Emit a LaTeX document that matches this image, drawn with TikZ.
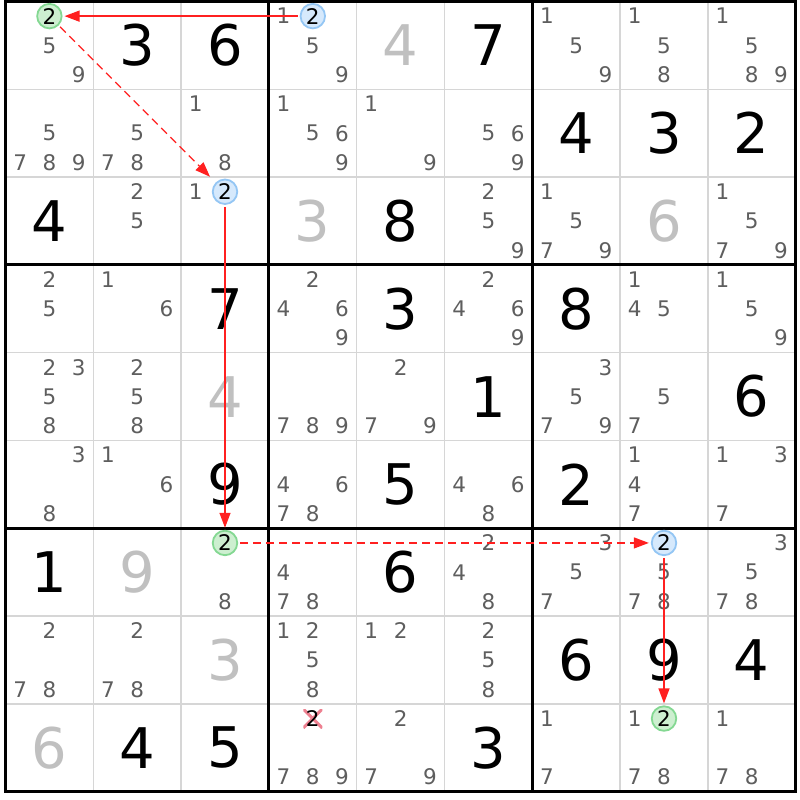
\documentclass[tikz,border=0pt]{standalone}
\usepackage{fontspec}
\setmainfont{DejaVu Sans}
\usetikzlibrary{arrows.meta}

\definecolor{candgrey}{HTML}{5E5E5E}
\definecolor{solvedgrey}{HTML}{C0C0C0}
\definecolor{gridgrey}{HTML}{D6D6D6}
\definecolor{greenline}{HTML}{84D892}
\definecolor{greenfill}{HTML}{CDEFD0}
\definecolor{blueline}{HTML}{94C6F4}
\definecolor{bluefill}{HTML}{D6E9FC}
\definecolor{arrowred}{HTML}{FF2020}
\definecolor{crossred}{HTML}{EE8090}

\tikzset{
  given/.style={font=\fontsize{56}{56}\selectfont, text=black, inner sep=0pt},
  solved/.style={given, text=solvedgrey},
  cand/.style={font=\fontsize{21.5}{21.5}\selectfont, text=candgrey, inner sep=0pt},
  greenmark/.style={circle, draw=greenline, fill=greenfill, line width=1.8pt, minimum size=24.5pt, text=black},
  bluemark/.style={circle, draw=blueline, fill=bluefill, line width=1.8pt, minimum size=24.5pt, text=black},
  crossed/.style={text=black, fill=white, minimum size=19pt,
    path picture={\draw[crossred, line width=3pt]
      (path picture bounding box.south west) -- (path picture bounding box.north east)
      (path picture bounding box.north west) -- (path picture bounding box.south east);}},
  thingrid/.style={gridgrey, line width=1.5pt},
  thickgrid/.style={black, line width=3pt, line cap=rect},
  link/.style={arrowred, line width=1.3pt, -{Triangle[length=15pt, width=11pt]},
    shorten >=2pt, shorten <=2pt},
  weaklink/.style={link, dash pattern=on 8pt off 5pt},
}

% candidate d of cell (r,c)
\newcommand{\candnode}[4]{%
  \pgfmathsetmacro\candx{#2+(mod(#3-1,3)+0.5)/3}%
  \pgfmathsetmacro\candy{-#1-(int((#3-1)/3)+0.5)/3}%
  \node[cand,#4] (c-#1-#2-#3) at (\candx,\candy) {#3};}

\begin{document}
\begin{tikzpicture}[x=87.8pt, y=87.8pt]
    \fill[white] (-0.0626,0.0171) rectangle (9.049,-9.0945);
    \useasboundingbox (-0.0626,0.0171) rectangle (9.049,-9.0945);

    % Draw grid
    \foreach \i in {1,...,8} {
        \draw[thingrid] (\i,0) -- (\i,-9);
        \draw[thingrid] (0,-\i) -- (9,-\i);
    }
    \foreach \i in {0,3,6,9} {
        \draw[thickgrid] (\i,0) -- (\i,-9);
        \draw[thickgrid] (0,-\i) -- (9,-\i);
    }

    % Draw given and solved digits
    \foreach \r/\c/\v in {0/1/3, 0/2/6, 0/5/7, 1/6/4, 1/7/3, 1/8/2,
        2/0/4, 2/4/8, 3/2/7, 3/4/3, 3/6/8, 4/5/1, 4/8/6,
        5/2/9, 5/4/5, 5/6/2, 6/0/1, 6/4/6, 7/6/6, 7/7/9, 7/8/4,
        8/1/4, 8/2/5, 8/5/3}
        \node[given] (v-\r-\c) at (\c+0.5,-\r-0.5) {\v};
    \foreach \r/\c/\v in {0/4/4, 2/3/3, 2/7/6, 4/2/4, 6/1/9, 7/2/3, 8/0/6}
        \node[solved] (v-\r-\c) at (\c+0.5,-\r-0.5) {\v};

    % Draw candidates
    \foreach \r/\c/\ds in {0/0/{5,9}, 0/3/{1,5,9}, 0/6/{1,5,9}, 0/7/{1,5,8}, 0/8/{1,5,8,9},
        1/0/{5,7,8,9}, 1/1/{5,7,8}, 1/2/{1,8}, 1/3/{1,5,6,9}, 1/4/{1,9}, 1/5/{5,6,9},
        2/1/{2,5}, 2/2/{1}, 2/5/{2,5,9}, 2/6/{1,5,7,9}, 2/8/{1,5,7,9},
        3/0/{2,5}, 3/1/{1,6}, 3/3/{2,4,6,9}, 3/5/{2,4,6,9}, 3/7/{1,4,5}, 3/8/{1,5,9},
        4/0/{2,3,5,8}, 4/1/{2,5,8}, 4/3/{7,8,9}, 4/4/{2,7,9}, 4/6/{3,5,7,9}, 4/7/{5,7},
        5/0/{3,8}, 5/1/{1,6}, 5/3/{4,6,7,8}, 5/5/{4,6,8}, 5/7/{1,4,7}, 5/8/{1,3,7},
        6/2/{8}, 6/3/{4,7,8}, 6/5/{2,4,8}, 6/6/{3,5,7}, 6/7/{5,7,8}, 6/8/{3,5,7,8},
        7/0/{2,7,8}, 7/1/{2,7,8}, 7/3/{1,2,5,8}, 7/4/{1,2}, 7/5/{2,5,8},
        8/3/{7,8,9}, 8/4/{2,7,9}, 8/6/{1,7}, 8/7/{1,7,8}, 8/8/{1,7,8}}
        \foreach \d in \ds
            \candnode{\r}{\c}{\d}{};

    % Marked candidates
    \candnode{0}{0}{2}{greenmark}
    \candnode{0}{3}{2}{bluemark}
    \candnode{2}{2}{2}{bluemark}
    \candnode{6}{2}{2}{greenmark}
    \candnode{6}{7}{2}{bluemark}
    \candnode{8}{7}{2}{greenmark}
    \candnode{8}{3}{2}{crossed}

    % Draw chain
    \draw[link] (c-0-3-2) -- (c-0-0-2);
    \draw[weaklink, shorten >=8pt] (c-0-0-2) -- (c-2-2-2);
    \draw[link] (c-2-2-2) -- (c-6-2-2);
    \draw[weaklink] (c-6-2-2) -- (c-6-7-2);
    \draw[link] (c-6-7-2) -- (c-8-7-2);
\end{tikzpicture}
\end{document}
